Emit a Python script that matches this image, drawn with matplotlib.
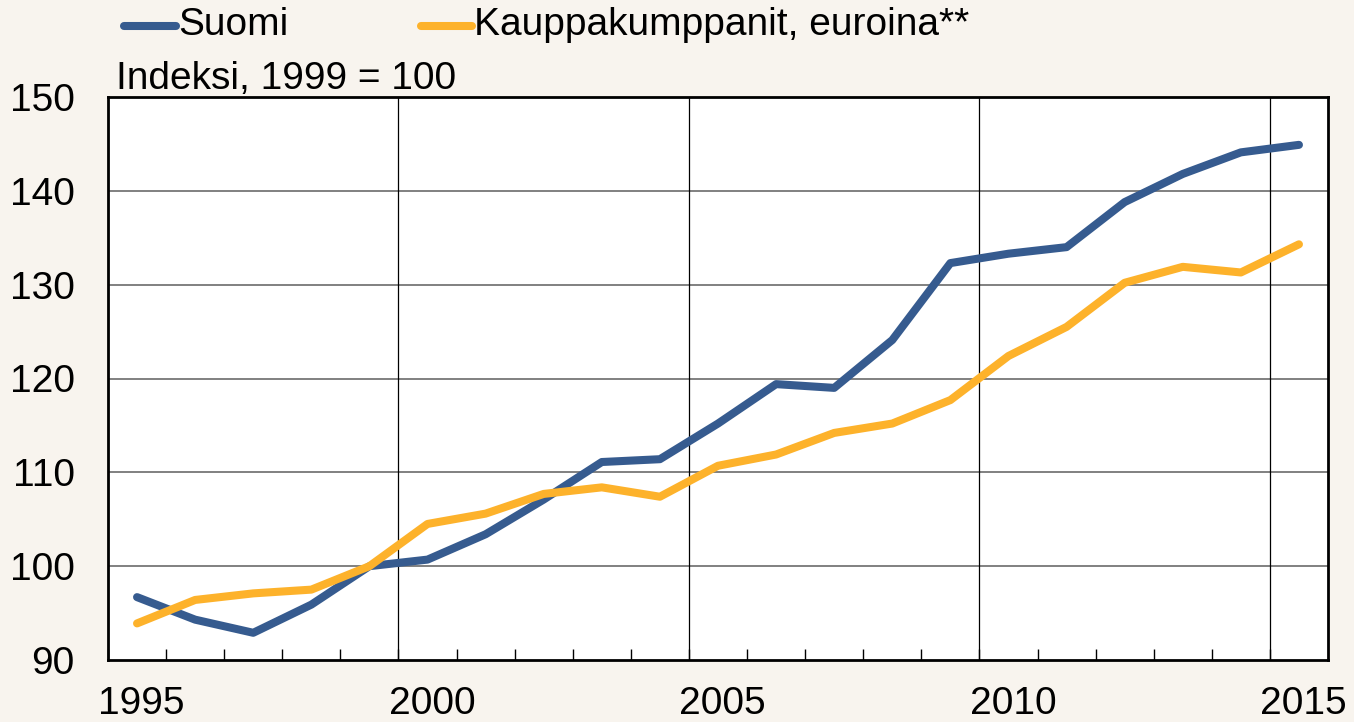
import matplotlib
matplotlib.use("Agg")
import matplotlib.pyplot as plt
from matplotlib.lines import Line2D
import numpy as np

plt.rcParams['font.family'] = ['Liberation Sans', 'DejaVu Sans']

years = list(range(1995, 2016))
suomi = [96.7, 94.3, 92.9, 95.9, 100.0, 100.7, 103.4, 107.1, 111.1, 111.4,
         115.2, 119.4, 119.0, 124.1, 132.3, 133.3, 134.0, 138.8, 141.8, 144.1, 144.9]
kauppa = [93.9, 96.4, 97.1, 97.5, 100.0, 104.5, 105.6, 107.7, 108.4, 107.4,
          110.7, 111.9, 114.2, 115.2, 117.7, 122.4, 125.5, 130.2, 131.9, 131.3, 134.3]
series_names = ["Suomi", "Kauppakumppanit, euroina**"]
colors = ["#365B8F", "#FDB22B"]
label_years = [1995, 2000, 2005, 2010, 2015]
yticks = [90, 100, 110, 120, 130, 140, 150]

FS = 28
LW = 5.8
bg = "#F8F4EE"
fig = plt.figure(figsize=(13.54, 7.22), dpi=100, facecolor=bg)
ax = fig.add_axes([108/1354, 1-660/722, (1328-108)/1354, (660-97)/722])
ax.set_facecolor("white")

x = np.array(years) + 0.5
ax.plot(x, suomi, color=colors[0], lw=LW, solid_capstyle='round', solid_joinstyle='round', zorder=3)
ax.plot(x, kauppa, color=colors[1], lw=LW, solid_capstyle='round', solid_joinstyle='round', zorder=3)

ax.set_xlim(1995, 2016)
ax.set_ylim(90, 150)

for yv in yticks[1:-1]:
    ax.axhline(yv, color="#808080", lw=1.4, zorder=1)
for xv in label_years[1:]:
    ax.axvline(xv, color="black", lw=0.9, zorder=1)

ax.set_xticks(years)
ax.set_xticklabels([])
ax.tick_params(axis='x', direction='in', length=8, width=1, bottom=True, top=False)
ax.set_yticks(yticks)
ax.set_yticklabels([str(v) for v in yticks], fontsize=FS)
ax.tick_params(axis='y', length=0, pad=24)

for yr in label_years:
    ax.text(yr + 0.58, 1 - 714/722, str(yr),
            transform=matplotlib.transforms.blended_transform_factory(ax.transData, fig.transFigure),
            ha='center', va='baseline', fontsize=FS)

for s in ax.spines.values():
    s.set_linewidth(2)
    s.set_color("black")

# legend
fig.add_artist(Line2D([124/1354, 176/1354], [1-26/722, 1-26/722], color=colors[0], lw=LW,
                      solid_capstyle='round', transform=fig.transFigure))
fig.text(178/1354, 1-25/722, series_names[0], fontsize=FS, va='center', ha='left')
fig.add_artist(Line2D([421/1354, 472/1354], [1-26/722, 1-26/722], color=colors[1], lw=LW,
                      solid_capstyle='round', transform=fig.transFigure))
fig.text(474/1354, 1-25/722, series_names[1], fontsize=FS, va='center', ha='left')

fig.text(116/1354, 1-89/722, "Indeksi, 1999 = 100", fontsize=FS, va='baseline', ha='left')

fig.savefig("out.png", dpi=100, facecolor=bg)
